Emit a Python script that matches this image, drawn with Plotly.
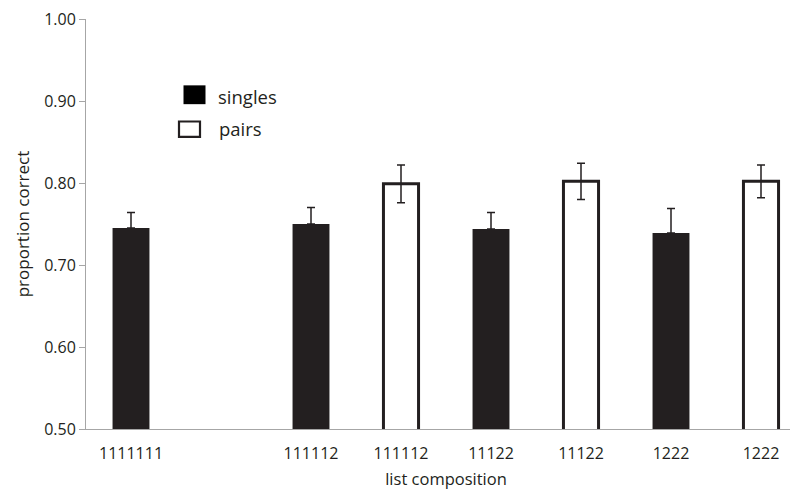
import plotly.graph_objects as go

# ---- data ----
tick_labels = ["1111111", "", "111112", "111112", "11122", "11122", "1222", "1222"]
singles_pos = [0, 2, 4, 6]
singles_val = [0.745, 0.750, 0.744, 0.739]
singles_err = [0.019, 0.020, 0.020, 0.030]
pairs_pos = [3, 5, 7]
pairs_val = [0.799, 0.802, 0.802]
pairs_err = [0.023, 0.022, 0.020]
y_ticks = [0.5, 0.6, 0.7, 0.8, 0.9, 1.0]

DARK = "#231f20"
AXIS = "#a6a6a6"
FONT = "Open Sans"

fig = go.Figure()
fig.add_trace(go.Bar(
    x=singles_pos, y=singles_val, base=0, width=0.41, name="singles",
    marker=dict(color=DARK, line=dict(width=0)),
    error_y=dict(type="data", array=singles_err, arrayminus=[0]*len(singles_err),
                 symmetric=False, color=DARK, thickness=1.5, width=4),
))
fig.add_trace(go.Bar(
    x=pairs_pos, y=pairs_val, base=0, width=0.39, name="pairs",
    marker=dict(color="white", line=dict(width=3, color=DARK)),
    error_y=dict(type="data", array=pairs_err, color=DARK, thickness=1.5, width=4),
))

# page body has an 8px margin; plot area in screen px: x 86..806, y 15..429
OFF = 8
L, R, T, B = 86, 806, 15, 429
def px(x):
    return (x - L) / (R - L)
def py(y):
    return (B - y) / (B - T)

shapes = [
    dict(type="rect", xref="paper", yref="paper", x0=px(183.5), x1=px(205.5), y0=py(101), y1=py(82),
         fillcolor="black", line=dict(width=0)),
    dict(type="rect", xref="paper", yref="paper", x0=px(179), x1=px(200), y0=py(134), y1=py(118.5),
         fillcolor="white", line=dict(width=2.2, color=DARK)),
]
annotations = [
    dict(xref="paper", yref="paper", x=px(216), y=py(93), text="singles", showarrow=False,
         xanchor="left", yanchor="middle", font=dict(family=FONT, size=18.5, color=DARK)),
    dict(xref="paper", yref="paper", x=px(217), y=py(126), text="pairs", showarrow=False,
         xanchor="left", yanchor="middle", font=dict(family=FONT, size=18.5, color=DARK)),
]

fig.update_layout(
    width=798, height=492,
    margin=dict(l=L - OFF, r=0, t=T - OFF, b=492 - (B - OFF), pad=0),
    paper_bgcolor="white", plot_bgcolor="white",
    showlegend=False, barmode="overlay",
    shapes=shapes, annotations=annotations,
    font=dict(family=FONT, size=15, color=DARK),
)
fig.update_xaxes(
    range=[-0.5, 7.5], tickvals=list(range(len(tick_labels))), ticktext=tick_labels,
    showline=True, linecolor=AXIS, linewidth=1, ticks="", showgrid=False, zeroline=False,
    tickfont=dict(family=FONT, size=16, color=DARK), ticklabelstandoff=10,
    title=dict(text="list composition", font=dict(family=FONT, size=16.5, color=DARK), standoff=10),
)
fig.update_yaxes(
    range=[0.5, 1.0], tickvals=y_ticks, tickformat=".2f",
    showline=True, linecolor=AXIS, linewidth=1, ticks="outside", ticklen=6, tickcolor=AXIS,
    showgrid=False, zeroline=False, ticklabeloverflow="allow",
    tickfont=dict(family=FONT, size=16, color=DARK),
    title=dict(text="proportion correct", font=dict(family=FONT, size=17, color=DARK), standoff=10),
)

fig.write_html("out.html")
